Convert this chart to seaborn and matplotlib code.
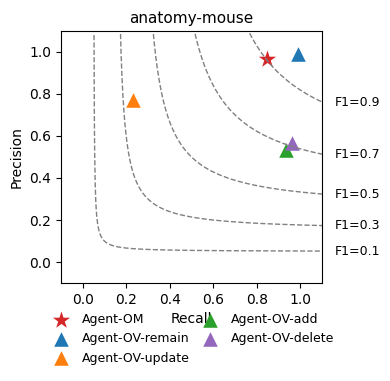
import numpy as np
import pandas as pd
import matplotlib
matplotlib.use("Agg")
import matplotlib.pyplot as plt
import seaborn as sns

methods = ["Agent-OM", "Agent-OV-remain", "Agent-OV-update", "Agent-OV-add", "Agent-OV-delete"]
recall = [0.845, 0.99, 0.23, 0.935, 0.96]
precision = [0.965, 0.99, 0.77, 0.535, 0.565]
marker_list = ["*", "^", "^", "^", "^"]
marker_sizes = [170, 110, 110, 110, 110]
colors = ["#d62728", "#1f77b4", "#ff7f0e", "#2ca02c", "#9467bd"]
f1_levels = [0.1, 0.3, 0.5, 0.7, 0.9]
curve_tops = [1.08, 1.12, 1.12, 1.12, 1.12]
xticks = [0.0, 0.2, 0.4, 0.6, 0.8, 1.0]
yticks = [0.0, 0.2, 0.4, 0.6, 0.8, 1.0]

fig = plt.figure(figsize=(3.9, 3.81), dpi=100)
ax = fig.add_axes([0.156, 0.257, 0.67, 0.662])

# iso-F1 curves
for f, top in zip(f1_levels, curve_tops):
    r0 = f * top / (2 * top - f)
    r = np.linspace(r0, 1.1, 800)
    p = f * r / (2 * r - f)
    sns.lineplot(x=r, y=p, ax=ax, color="gray", linestyle="--",
                 linewidth=1, sort=False, estimator=None)
    y_end = f * 1.1 / (2 * 1.1 - f)
    ax.text(1.16, y_end, f"F1={f}", va="center", ha="left", fontsize=9)

df = pd.DataFrame({"Method": methods, "Recall": recall, "Precision": precision})
for m, mk, c, sz in zip(methods, marker_list, colors, marker_sizes):
    sub = df[df["Method"] == m]
    sns.scatterplot(data=sub, x="Recall", y="Precision", ax=ax, marker=mk,
                    color=c, s=sz, linewidth=0, label=m, legend=False)

ax.set_xlim(-0.1, 1.1)
ax.set_ylim(-0.1, 1.1)
ax.set_xticks(xticks)
ax.set_yticks(yticks)
ax.set_xlabel("Recall")
ax.set_ylabel("Precision")
ax.set_title("anatomy-mouse", fontsize=11)

handles = [h for h in ax.collections]
ax.legend(handles=handles, labels=methods, ncol=2, loc="upper center",
          bbox_to_anchor=(0.5, -0.075), frameon=False, fontsize=9,
          handletextpad=0.65, columnspacing=0.6, labelspacing=0.5)

fig.savefig("out.png", dpi=100)
